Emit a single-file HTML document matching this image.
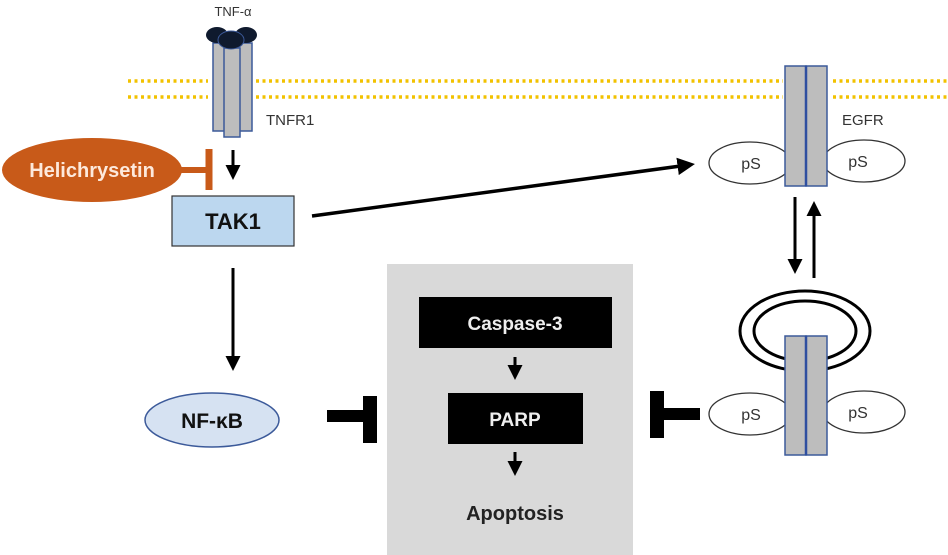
<!DOCTYPE html>
<html><head><meta charset="utf-8"><style>
html,body{margin:0;padding:0;background:#fff;}
svg{display:block;font-family:"Liberation Sans",Arial,sans-serif;}
</style></head><body>
<svg width="948" height="555" viewBox="0 0 948 555" xmlns="http://www.w3.org/2000/svg">
<defs>
<marker id="ah" markerWidth="5" markerHeight="5" refX="3" refY="2.5" orient="auto" markerUnits="strokeWidth">
<path d="M0,0 L5,2.5 L0,5 z" fill="#000"/></marker>
</defs>
<!-- membrane -->
<g stroke="#f2c200" stroke-width="3.5" stroke-dasharray="3,3.5">
<line x1="128" y1="81" x2="208" y2="81"/>
<line x1="128" y1="97" x2="208" y2="97"/>
<line x1="256" y1="81" x2="783" y2="81"/>
<line x1="256" y1="97" x2="783" y2="97"/>
<line x1="833" y1="81" x2="948" y2="81"/>
<line x1="833" y1="97" x2="948" y2="97"/>
</g>
<!-- TNFR1 -->
<rect x="213" y="43" width="16" height="88" fill="#bdbdbd" stroke="#3c5a9a" stroke-width="1.5"/>
<rect x="236" y="43" width="16" height="88" fill="#bdbdbd" stroke="#3c5a9a" stroke-width="1.5"/>
<rect x="224" y="48" width="16" height="89" fill="#bdbdbd" stroke="#3c5a9a" stroke-width="1.5"/>
<ellipse cx="217" cy="35" rx="11" ry="8" fill="#0f1a2e"/>
<ellipse cx="246" cy="35" rx="11" ry="8" fill="#0f1a2e"/>
<ellipse cx="231" cy="40" rx="13" ry="9" fill="#0f1a2e" stroke="#3c5a9a"/>
<text x="233" y="16" font-size="13" text-anchor="middle" fill="#333">TNF-α</text>
<text x="266" y="125" font-size="15" fill="#333">TNFR1</text>
<!-- Helichrysetin -->
<ellipse cx="92" cy="170" rx="90" ry="32" fill="#c85a19"/>
<text x="92" y="177" font-size="20" font-weight="bold" fill="#fde9dc" text-anchor="middle">Helichrysetin</text>
<line x1="180" y1="170" x2="208" y2="170" stroke="#c85a19" stroke-width="6"/>
<line x1="209" y1="149" x2="209" y2="190" stroke="#c85a19" stroke-width="7"/>
<line x1="233" y1="150" x2="233" y2="174" stroke="#000" stroke-width="3" marker-end="url(#ah)"/>
<!-- TAK1 -->
<rect x="172" y="196" width="122" height="50" fill="#bcd7ef" stroke="#333" stroke-width="1.2"/>
<text x="233" y="229" font-size="22" font-weight="bold" fill="#111" text-anchor="middle">TAK1</text>
<line x1="233" y1="268" x2="233" y2="365" stroke="#000" stroke-width="3" marker-end="url(#ah)"/>
<line x1="312" y1="216" x2="688" y2="165" stroke="#000" stroke-width="3.5" marker-end="url(#ah)"/>
<!-- NF-kB -->
<ellipse cx="212" cy="420" rx="67" ry="27" fill="#d6e2f2" stroke="#3c5a9a" stroke-width="1.5"/>
<text x="212" y="428" font-size="21" font-weight="bold" fill="#111" text-anchor="middle">NF-κB</text>
<rect x="327" y="410" width="38" height="12" fill="#000"/>
<rect x="363" y="396" width="14" height="47" fill="#000"/>
<!-- gray box -->
<rect x="387" y="264" width="246" height="291" fill="#d9d9d9"/>
<rect x="419" y="297" width="193" height="51" fill="#000"/>
<text x="515" y="330" font-size="19" font-weight="bold" fill="#eee" text-anchor="middle">Caspase-3</text>
<line x1="515" y1="357" x2="515" y2="374" stroke="#000" stroke-width="3" marker-end="url(#ah)"/>
<rect x="448" y="393" width="135" height="51" fill="#000"/>
<text x="515" y="426" font-size="19" font-weight="bold" fill="#eee" text-anchor="middle">PARP</text>
<line x1="515" y1="452" x2="515" y2="470" stroke="#000" stroke-width="3" marker-end="url(#ah)"/>
<text x="515" y="520" font-size="20" font-weight="bold" fill="#222" text-anchor="middle">Apoptosis</text>
<!-- right T -->
<rect x="650" y="391" width="14" height="47" fill="#000"/>
<rect x="664" y="408" width="36" height="12" fill="#000"/>
<!-- EGFR top -->
<ellipse cx="750" cy="163" rx="41" ry="21" fill="#fff" stroke="#333" stroke-width="1.3"/>
<ellipse cx="864" cy="161" rx="41" ry="21" fill="#fff" stroke="#333" stroke-width="1.3"/>
<text x="751" y="169" font-size="16" fill="#333" text-anchor="middle">pS</text>
<text x="858" y="167" font-size="16" fill="#333" text-anchor="middle">pS</text>
<rect x="785" y="66" width="21" height="120" fill="#bdbdbd" stroke="#3c5a9a" stroke-width="1.5"/>
<rect x="806" y="66" width="21" height="120" fill="#bdbdbd" stroke="#3c5a9a" stroke-width="1.5"/>
<line x1="806" y1="66" x2="806" y2="186" stroke="#2f4fa0" stroke-width="2.5"/>
<text x="842" y="125" font-size="15" fill="#333">EGFR</text>
<line x1="795" y1="197" x2="795" y2="268" stroke="#000" stroke-width="3" marker-end="url(#ah)"/>
<line x1="814" y1="278" x2="814" y2="207" stroke="#000" stroke-width="3" marker-end="url(#ah)"/>
<!-- EGFR bottom -->
<ellipse cx="805" cy="331" rx="65" ry="40" fill="none" stroke="#000" stroke-width="3"/>
<ellipse cx="805" cy="331" rx="51" ry="30" fill="none" stroke="#000" stroke-width="3"/>
<ellipse cx="750" cy="414" rx="41" ry="21" fill="#fff" stroke="#333" stroke-width="1.3"/>
<ellipse cx="864" cy="412" rx="41" ry="21" fill="#fff" stroke="#333" stroke-width="1.3"/>
<text x="751" y="420" font-size="16" fill="#333" text-anchor="middle">pS</text>
<text x="858" y="418" font-size="16" fill="#333" text-anchor="middle">pS</text>
<rect x="785" y="336" width="21" height="119" fill="#bdbdbd" stroke="#3c5a9a" stroke-width="1.5"/>
<rect x="806" y="336" width="21" height="119" fill="#bdbdbd" stroke="#3c5a9a" stroke-width="1.5"/>
<line x1="806" y1="336" x2="806" y2="455" stroke="#2f4fa0" stroke-width="2.5"/>
</svg>
</body></html>
